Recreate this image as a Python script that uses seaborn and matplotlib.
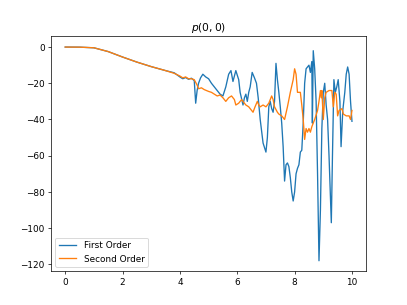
import numpy as np
import seaborn as sns
import matplotlib
matplotlib.use('Agg')
import matplotlib.pyplot as plt

# first order solution
first_x = [0, 0.5, 1.0, 1.5, 2.0, 2.5, 3.0, 3.5, 3.8, 4.0,
           4.1, 4.2, 4.3, 4.4, 4.5, 4.55, 4.6, 4.65, 4.72, 4.8,
           4.9, 5.0, 5.1, 5.2, 5.3, 5.4, 5.5, 5.6, 5.7, 5.78,
           5.85, 5.95, 6.05, 6.1, 6.2, 6.25, 6.3, 6.35, 6.4, 6.45,
           6.52, 6.6, 6.67, 6.73, 6.8, 6.9, 7.0, 7.05, 7.1, 7.15,
           7.2, 7.25, 7.3, 7.35, 7.4, 7.45, 7.5, 7.55, 7.6, 7.65,
           7.7, 7.75, 7.8, 7.85, 7.9, 7.95, 8.0, 8.05, 8.1, 8.15,
           8.2, 8.25, 8.3, 8.35, 8.4, 8.45, 8.5, 8.55, 8.6, 8.62,
           8.65, 8.7, 8.75, 8.8, 8.85, 8.9, 8.95, 9.0, 9.05, 9.1,
           9.15, 9.2, 9.28, 9.32, 9.37, 9.42, 9.47, 9.52, 9.58, 9.62,
           9.68, 9.75, 9.8, 9.85, 9.9, 9.95, 10.0]
first_y = [0, -0.05, -0.4, -2.5, -5.5, -8.3, -10.8, -13.0, -14.2, -16.5,
           -17.5, -16.8, -17.8, -17.2, -18.5, -31, -24, -20, -17, -15,
           -16.5, -17.5, -20, -22, -24, -26, -27, -22, -15, -13,
           -19, -13, -18, -25, -32, -28, -26, -30, -25, -22,
           -14, -17, -20, -28, -40, -53, -58, -50, -33, -30,
           -34, -36, -30, -9, -18, -25, -33, -42, -55, -74,
           -65, -64, -66, -72, -80, -85, -80, -70, -67, -65,
           -58, -57, -42, -20, -12, -11, -10, -14, -8, -42,
           -2, -12, -30, -70, -118, -90, -45, -25, -20, -32,
           -40, -60, -97, -60, -18, -25, -22, -18, -30, -55,
           -35, -25, -15, -11, -15, -30, -41]

# second order solution
second_x = [0, 0.5, 1.0, 1.5, 2.0, 2.5, 3.0, 3.5, 3.8, 4.0,
            4.1, 4.2, 4.3, 4.4, 4.5, 4.6, 4.65, 4.75, 4.85, 5.0,
            5.1, 5.2, 5.3, 5.4, 5.5, 5.6, 5.7, 5.8, 5.9, 5.95,
            6.05, 6.15, 6.25, 6.3, 6.4, 6.45, 6.55, 6.62, 6.7, 6.75,
            6.8, 6.9, 7.0, 7.1, 7.2, 7.25, 7.3, 7.4, 7.45, 7.55,
            7.65, 7.75, 7.85, 7.95, 8.0, 8.05, 8.1, 8.2, 8.25, 8.3,
            8.35, 8.4, 8.45, 8.5, 8.55, 8.6, 8.7, 8.8, 8.85, 8.9,
            8.93, 8.95, 9.0, 9.05, 9.1, 9.2, 9.3, 9.35, 9.4, 9.45,
            9.5, 9.55, 9.65, 9.7, 9.8, 9.9, 9.95, 10.0]
second_y = [0, -0.05, -0.4, -2.5, -5.5, -8.3, -10.8, -13.0, -14.5, -16,
            -17, -16.5, -17.5, -17.5, -18, -21, -23, -22.5, -23.5, -24.5,
            -25, -26, -27, -26.5, -28, -30, -28, -27, -29, -32,
            -31, -29, -31, -32, -33, -34, -36, -33, -30, -32,
            -33, -32, -33, -31, -27, -29, -33, -36, -37, -38,
            -40, -33, -25, -18, -12, -15, -25, -25, -32, -40,
            -51, -45, -47, -45, -47, -44, -40, -35, -30, -24,
            -28, -24, -40, -28, -25, -24, -24, -33, -25, -26,
            -38, -35, -34, -37, -38, -38, -40, -35]

fig, ax = plt.subplots(figsize=(6.4, 4.8), dpi=407 / 6.4)
sns.lineplot(x=first_x, y=first_y, label='First Order', ax=ax)
sns.lineplot(x=second_x, y=second_y, label='Second Order', ax=ax)
ax.set_title('$p(0,0)$')
ax.legend(loc='lower left')
fig.savefig('out.png', dpi=407 / 6.4)
